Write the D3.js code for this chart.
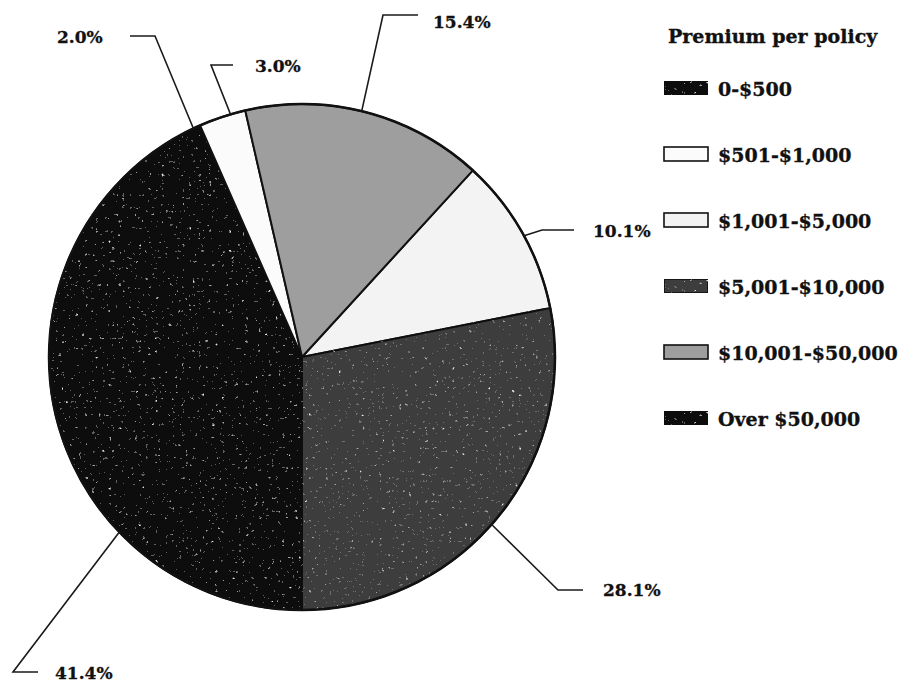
<!DOCTYPE html>
<html>
<head>
<meta charset="utf-8">
<script src="https://cdn.jsdelivr.net/npm/d3@7/dist/d3.min.js"></script>
<style>
  html, body { margin: 0; padding: 0; background: #ffffff; }
  svg { display: block; }
  text { font-family: "DejaVu Serif", serif; font-weight: bold; fill: #111; }
</style>
</head>
<body>
<svg id="chart" width="912" height="684"></svg>
<script>
// Premium per policy: share of policies (%) in each premium band
const categories = ["0-$500", "$501-$1,000", "$1,001-$5,000", "$5,001-$10,000", "$10,001-$50,000", "Over $50,000"];
const shares = [2.0, 3.0, 10.1, 28.1, 15.4, 41.4];
// order of the slices, clockwise from six o'clock
const pieOrder = ["Over $50,000", "0-$500", "$501-$1,000", "$10,001-$50,000", "$1,001-$5,000", "$5,001-$10,000"];
const fills = ["#0a0a0a", "#fbfbfb", "#f3f3f3", "#3d3d3d", "#9e9e9e", "#0a0a0a"];
const grainy = [true, false, false, true, false, true];
const legendTitle = "Premium per policy";

// leader lines: where along the slice the line leaves the rim, the elbow, the end, and the label spot
const leaders = {
  "0-$500":          { along: 0.77, elbow: [155, 36],  end: [130, 36],  label: [57, 37] },
  "$501-$1,000":     { along: 0.68, elbow: [211, 65],  end: [233, 65],  label: [255, 66] },
  "$10,001-$50,000": { along: 0.48, elbow: [383, 15],  end: [418, 15],  label: [433, 22] },
  "$1,001-$5,000":   { along: 0.52, elbow: [542, 230], end: [574, 230], label: [593, 231] },
  "$5,001-$10,000":  { along: 0.52, elbow: [558, 590], end: [583, 590], label: [603, 590] },
  "Over $50,000":    { along: 0.31, elbow: [13, 672],  end: [38, 672],  label: [55, 673] }
};

const data = categories.map((c, i) => ({ cat: c, value: shares[i], fill: fills[i], grainy: grainy[i] }));

const svg = d3.select("#chart");
const cx = 302, cy = 357, r = 253;

// light grain for the dark tones
const defs = svg.append("defs");
const f = defs.append("filter").attr("id", "speckle")
  .attr("x", "0").attr("y", "0").attr("width", "100%").attr("height", "100%");
f.append("feTurbulence").attr("type", "fractalNoise").attr("baseFrequency", "0.3")
  .attr("numOctaves", 2).attr("seed", 11).attr("result", "noise");
f.append("feColorMatrix").attr("in", "noise").attr("type", "matrix")
  .attr("values", "0 0 0 0 1  0 0 0 0 1  0 0 0 0 1  1 0 0 0 0").attr("result", "white");
const ct = f.append("feComponentTransfer").attr("in", "white").attr("result", "dots");
ct.append("feFuncA").attr("type", "discrete")
  .attr("tableValues", "0 0 0 0 0 0 0 0 0 0 0.12 0.35 0.75 0.9");
f.append("feGaussianBlur").attr("in", "dots").attr("stdDeviation", 0.5).attr("result", "soft");
f.append("feComposite").attr("in", "soft").attr("in2", "SourceAlpha").attr("operator", "in").attr("result", "clipped");
const merge = f.append("feMerge");
merge.append("feMergeNode").attr("in", "SourceGraphic");
merge.append("feMergeNode").attr("in", "clipped");

const pie = d3.pie()
  .value(d => d.value)
  .sort((a, b) => pieOrder.indexOf(a.cat) - pieOrder.indexOf(b.cat))
  .startAngle(Math.PI)
  .endAngle(3 * Math.PI);

const arcs = pie(data);
const arc = d3.arc().innerRadius(0).outerRadius(r);

const g = svg.append("g").attr("transform", `translate(${cx},${cy})`);

g.selectAll("path.slice")
  .data(arcs)
  .join("path")
  .attr("class", "slice")
  .attr("d", arc)
  .attr("fill", d => d.data.fill)
  .attr("filter", d => d.data.grainy ? "url(#speckle)" : null)
  .attr("stroke", "#111")
  .attr("stroke-width", 2)
  .attr("stroke-linejoin", "round");

// outer rim drawn over the slices
g.append("circle").attr("r", r).attr("fill", "none").attr("stroke", "#111").attr("stroke-width", 2.5);

// leader lines and percentage labels
const fmt = d3.format(".1f");
arcs.forEach(a => {
  const L = leaders[a.data.cat];
  const ang = a.startAngle + (a.endAngle - a.startAngle) * L.along;
  const px = cx + r * Math.sin(ang), py = cy - r * Math.cos(ang);
  svg.append("path")
    .attr("d", d3.line()([[px, py], L.elbow, L.end]))
    .attr("fill", "none").attr("stroke", "#1a1a1a").attr("stroke-width", 1.6);
  svg.append("text")
    .attr("x", L.label[0]).attr("y", L.label[1])
    .attr("dominant-baseline", "central")
    .style("font-size", "17px")
    .style("stroke", "#111").style("stroke-width", 0.3)
    .text(fmt(a.data.value) + "%");
});

// legend
const legend = svg.append("g");
legend.append("text")
  .attr("x", 668).attr("y", 36)
  .attr("dominant-baseline", "central")
  .style("font-size", "19px")
  .style("stroke", "#111").style("stroke-width", 0.35)
  .text(legendTitle);

const rowY = d3.scalePoint().domain(categories).range([88, 418]);
const rows = legend.selectAll("g.row").data(data).join("g").attr("class", "row")
  .attr("transform", d => `translate(0,${rowY(d.cat)})`);
rows.append("rect")
  .attr("x", 664).attr("y", -7).attr("width", 44).attr("height", 14)
  .attr("fill", d => d.fill)
  .attr("filter", d => d.grainy ? "url(#speckle)" : null)
  .attr("stroke", "#111").attr("stroke-width", 1.6);
rows.append("text")
  .attr("x", 718).attr("y", 1)
  .attr("dominant-baseline", "central")
  .style("font-size", "19px")
  .style("stroke", "#111").style("stroke-width", 0.35)
  .text(d => d.cat);
</script>
</body>
</html>
